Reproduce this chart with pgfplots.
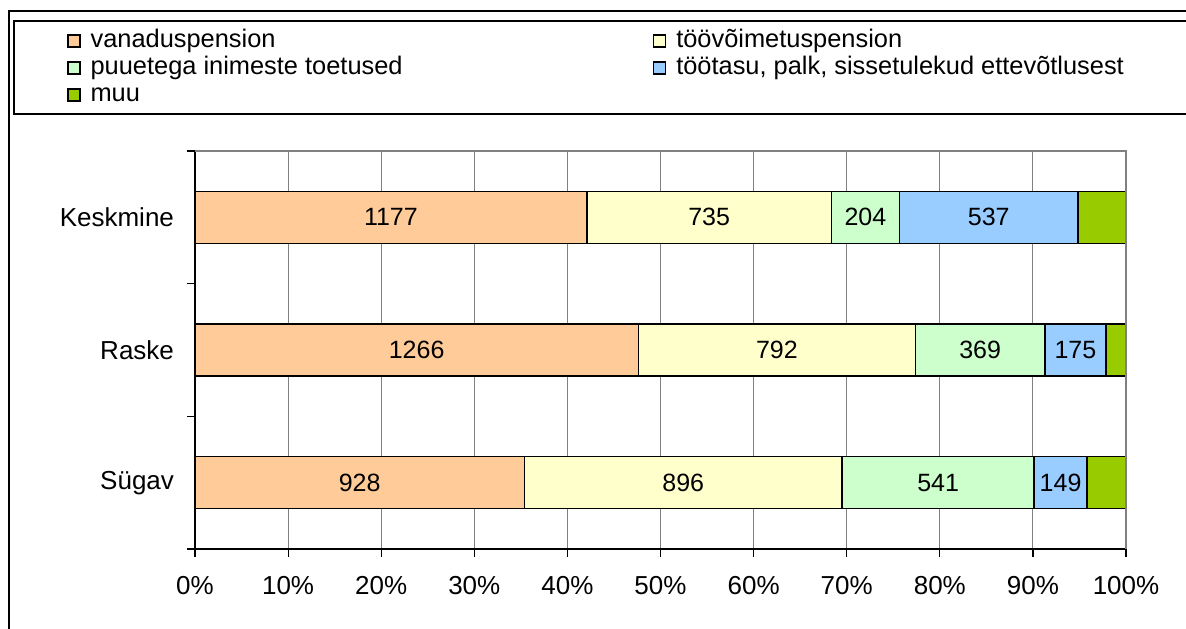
\documentclass[border=0pt]{standalone}
\usepackage{fontspec}
\setmainfont{Liberation Sans}
\usepackage{pgfplots}
\usepackage{pgfplotstable}
\pgfplotsset{compat=1.18}

\definecolor{cVana}{HTML}{FFCC99}
\definecolor{cToov}{HTML}{FFFFCC}
\definecolor{cPuue}{HTML}{CCFFCC}
\definecolor{cToot}{HTML}{99CCFF}
\definecolor{cMuu}{HTML}{99CC00}

% rows: 0 = Sügav, 1 = Raske, 2 = Keskmine; "muu"
\pgfplotstableread{
cat a b c d e
0 928 896 541 149 110
1 1266 792 369 175 57
2 1177 735 204 537 144
}\data
\pgfplotstablecreatecol[create col/expr={\thisrow{a}+\thisrow{b}+\thisrow{c}+\thisrow{d}+\thisrow{e}}]{t}\data

\pgfplotsset{
  base/.style={
    scale only axis,
    at={(97.5pt,39.5pt)}, anchor=south west,
    width=465.5pt, height=199pt,
    xmin=0, xmax=100, ymin=-0.5, ymax=2.5,
  },
}

\begin{document}
\begin{tikzpicture}
\path[use as bounding box, clip] (0,0) rectangle (593pt,314pt);
% outer frame and legend box
\draw[black, line width=0.6pt] (4.5pt,-10pt) rectangle (600pt,308.5pt);
\draw[black, line width=0.6pt] (7pt,257pt) rectangle (600pt,303.5pt);

\begin{axis}[base,
  xbar stacked, bar width=26pt,
  axis x line*=bottom, axis y line*=left,
  axis line style={-, black, line width=0.8pt},
  xtick={0,10,...,100},
  xticklabels={0\%,10\%,20\%,30\%,40\%,50\%,60\%,70\%,80\%,90\%,100\%},
  ytick={0,1,2},
  yticklabels={Sügav,Raske,Keskmine},
  minor ytick={-0.5,0.5,1.5,2.5},
  major y tick style={draw=none},
  tick align=outside,
  major tick length=4pt, minor tick length=4pt,
  tick style={black, line width=0.6pt},
  xmajorgrids,
  major x grid style={gray, line width=0.5pt},
  tick label style={font=\fontsize{13}{15}\selectfont},
  xticklabel shift=6pt,
  yticklabel shift=3pt,
  legend columns=2,
  legend style={
    at={(-0.1375,1.3055)}, anchor=north west,
    draw=none, fill=none, inner sep=0pt, outer sep=0pt,
    font=\fontsize{12.7}{15}\selectfont,
    nodes={inner sep=0pt, text height=9pt, text depth=2.5pt, anchor=west},
    row sep=2pt,
    /tikz/column 1/.style={column sep=5pt},
    /tikz/column 2/.style={column sep=125pt},
    /tikz/column 3/.style={column sep=5pt},
  },
  legend image code/.code={\draw[#1, draw=black, line width=0.8pt] (0pt,-3pt) rectangle (6pt,3pt);},
  after end axis/.code={
    \draw[gray, line width=1pt] (rel axis cs:0,1) -- (rel axis cs:1,1) -- (rel axis cs:1,0);
  },
]
\addplot[fill=cVana, draw=black, line width=0.75pt] table[x expr=\thisrow{a}/\thisrow{t}*100, y=cat]{\data};
\addlegendentry{vanaduspension}
\addplot[fill=cToov, draw=black, line width=0.75pt] table[x expr=\thisrow{b}/\thisrow{t}*100, y=cat]{\data};
\addlegendentry{töövõimetuspension}
\addplot[fill=cPuue, draw=black, line width=0.75pt] table[x expr=\thisrow{c}/\thisrow{t}*100, y=cat]{\data};
\addlegendentry{puuetega inimeste toetused}
\addplot[fill=cToot, draw=black, line width=0.75pt] table[x expr=\thisrow{d}/\thisrow{t}*100, y=cat]{\data};
\addlegendentry{töötasu, palk, sissetulekud ettevõtlusest}
\addplot[fill=cMuu, draw=black, line width=0.75pt] table[x expr=\thisrow{e}/\thisrow{t}*100, y=cat]{\data};
\addlegendentry{muu}
\end{axis}

% value labels, centred in each segment
\begin{axis}[base, hide axis,
  every node near coord/.style={font=\fontsize{12.5}{15}\selectfont, text=black, anchor=center, inner sep=0pt},
]
\addplot[draw=none, mark=none, nodes near coords, point meta=explicit symbolic]
  table[x expr=(\thisrow{a}/2)/\thisrow{t}*100, y=cat, meta=a]{\data};
\addplot[draw=none, mark=none, nodes near coords, point meta=explicit symbolic]
  table[x expr=(\thisrow{a}+\thisrow{b}/2)/\thisrow{t}*100, y=cat, meta=b]{\data};
\addplot[draw=none, mark=none, nodes near coords, point meta=explicit symbolic]
  table[x expr=(\thisrow{a}+\thisrow{b}+\thisrow{c}/2)/\thisrow{t}*100, y=cat, meta=c]{\data};
\addplot[draw=none, mark=none, nodes near coords, point meta=explicit symbolic]
  table[x expr=(\thisrow{a}+\thisrow{b}+\thisrow{c}+\thisrow{d}/2)/\thisrow{t}*100, y=cat, meta=d]{\data};
\end{axis}
\end{tikzpicture}
\end{document}
